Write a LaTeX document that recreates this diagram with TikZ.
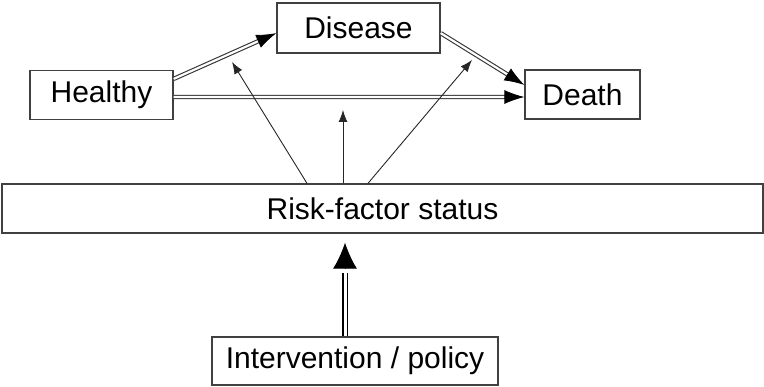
\documentclass[tikz,border=0pt]{standalone}
\usepackage{fontspec}
\setmainfont{Liberation Sans}
\usetikzlibrary{arrows.meta,calc}
\begin{document}
\begin{tikzpicture}[x=1pt,y=-1pt,
  box/.style={draw=black!75,line width=1.3pt,minimum height=49pt,inner sep=0pt,font=\fontsize{30}{34}\selectfont},
  dbl/.style={draw=black!80,double=white,double distance=2.2pt,line width=1.1pt,shorten >=18pt},
  dbltip/.style={draw=black,line width=0.8pt,-{Latex[length=20pt,width=14pt]}},
  thin/.style={draw=black!85,line width=0.9pt,-{Latex[length=12pt,width=9pt]}},
  thick/.style={draw=black,double=white,double distance=3pt,line width=1.8pt,shorten >=30pt},
  thicktip/.style={draw=black,line width=1pt,-{Latex[length=26pt,width=24pt]}}]
\useasboundingbox (0,0) rectangle (764,387);
\node[box,minimum width=143pt] (healthy) at (101.5,95) {Healthy};
\node[box,minimum width=163pt,minimum height=50pt] (disease) at (358.5,28) {Disease};
\node[box,minimum width=115pt] (death) at (582.5,94.5) {Death};
\node[box,minimum width=761pt] (risk) at (382.5,208.5) {Risk-factor status};
\node[box,minimum width=286pt,minimum height=48pt] (interv) at (355,361) {Intervention / policy};
% endpoints
\coordinate (hA) at ($(healthy.north east)!0.18!(healthy.south east)$);
\coordinate (dA) at ($(disease.north west)!0.6!(disease.south west)$);
\coordinate (dB) at ($(disease.north east)!0.6!(disease.south east)$);
\coordinate (eA) at ($(death.north west)!0.31!(death.south west)$);
\coordinate (hB) at ($(healthy.north east)!0.54!(healthy.south east)$);
\coordinate (eB) at ($(death.north west)!0.55!(death.south west)$);
% double arrows
\draw[dbl] (hA) -- (dA);
\draw[dbltip] ($(dA)!20pt!(hA)$) -- (dA);
\draw[dbl] (dB) -- (eA);
\draw[dbltip] ($(eA)!20pt!(dB)$) -- (eA);
\draw[dbl] (hB) -- (eB);
\draw[dbltip] ($(eB)!20pt!(hB)$) -- (eB);
% thin arrows
\coordinate (t1) at (232,62);
\coordinate (t2) at (343,110);
\coordinate (t3) at (472,60);
\draw[thin] (risk.north -| 307,0) -- (t1);
\draw[thin] (risk.north -| t2) -- (t2);
\draw[thin] (risk.north -| 368,0) -- (t3);
% thick arrow
\coordinate (iA) at ($(interv.north)+(-10,0)$);
\coordinate (rA) at ($(risk.south)+(-37.5,9)$);
\draw[thick] (iA) -- (rA);
\draw[thicktip] ($(rA)+(0,26)$) -- (rA);
\end{tikzpicture}
\end{document}
